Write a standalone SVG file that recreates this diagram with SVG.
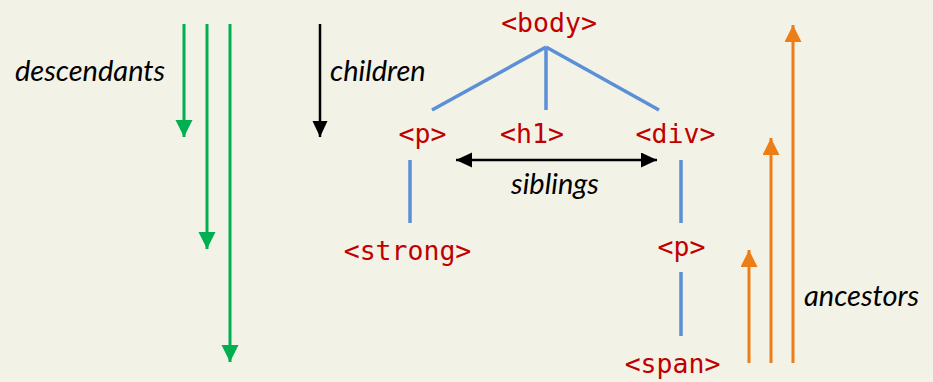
<svg xmlns="http://www.w3.org/2000/svg" width="933" height="382" viewBox="0 0 933 382">
<style>
.code{font-family:"DejaVu Sans Mono","Liberation Mono",monospace;font-size:26.5px;fill:#c00000;text-anchor:middle}
.lbl{font-family:Lato,"Open Sans",sans-serif;font-style:italic;font-size:29px;fill:#000}
.tree{stroke:#5b8fd6;stroke-width:3.5;fill:none}
.g{stroke:#00b050;stroke-width:3;fill:none}
.o{stroke:#ed7d17;stroke-width:3;fill:none}
.k{stroke:#000;stroke-width:2.5;fill:none}
</style>
<defs>
<marker id="hg" markerUnits="userSpaceOnUse" markerWidth="18" markerHeight="18" refX="17" refY="8.5" orient="auto"><path d="M0,0 L17,8.5 L0,17 Z" fill="#00b050"/></marker>
<marker id="ho" markerUnits="userSpaceOnUse" markerWidth="18" markerHeight="18" refX="17" refY="8.5" orient="auto"><path d="M0,0 L17,8.5 L0,17 Z" fill="#ed7d17"/></marker>
<marker id="hk" markerUnits="userSpaceOnUse" markerWidth="18" markerHeight="18" refX="16" refY="7.5" orient="auto-start-reverse"><path d="M0,0 L16,7.5 L0,15 Z" fill="#000"/></marker>
</defs>
<rect width="933" height="382" fill="#f3f2e7"/>
<g id="connectors">
<line class="tree" x1="546" y1="47" x2="432" y2="110"/>
<line class="tree" x1="546" y1="47" x2="546" y2="110"/>
<line class="tree" x1="546" y1="47" x2="659" y2="110"/>
<line class="tree" x1="410" y1="160" x2="410" y2="223"/>
<line class="tree" x1="681" y1="160" x2="681" y2="223"/>
<line class="tree" x1="681" y1="272" x2="681" y2="336"/>
<line class="k" x1="456" y1="160" x2="657" y2="160" marker-start="url(#hk)" marker-end="url(#hk)"/>
</g>
<g id="descendants">
<line class="g" x1="184" y1="24" x2="184" y2="137" marker-end="url(#hg)"/>
<line class="g" x1="207" y1="24" x2="207" y2="249" marker-end="url(#hg)"/>
<line class="g" x1="230" y1="24" x2="230" y2="362" marker-end="url(#hg)"/>
<text class="lbl" x="15" y="81">descendants</text>
</g>
<g id="children">
<line class="k" x1="320" y1="24" x2="320" y2="137" marker-end="url(#hk)"/>
<text class="lbl" x="330" y="81">children</text>
</g>
<g id="ancestors">
<line class="o" x1="749" y1="363" x2="749" y2="250" marker-end="url(#ho)"/>
<line class="o" x1="771" y1="363" x2="771" y2="138" marker-end="url(#ho)"/>
<line class="o" x1="793" y1="363" x2="793" y2="25" marker-end="url(#ho)"/>
<text class="lbl" x="804" y="306">ancestors</text>
</g>
<g id="siblings-label"><text class="lbl" x="555" y="194" text-anchor="middle">siblings</text></g>
<g id="n-body"><text class="code" x="549" y="32">&lt;body&gt;</text></g>
<g id="n-p1"><text class="code" x="422.5" y="143">&lt;p&gt;</text></g>
<g id="n-h1"><text class="code" x="532" y="143">&lt;h1&gt;</text></g>
<g id="n-div"><text class="code" x="675.5" y="143">&lt;div&gt;</text></g>
<g id="n-strong"><text class="code" x="407.5" y="260">&lt;strong&gt;</text></g>
<g id="n-p2"><text class="code" x="681.5" y="256">&lt;p&gt;</text></g>
<g id="n-span"><text class="code" x="672.5" y="373">&lt;span&gt;</text></g>
</svg>
